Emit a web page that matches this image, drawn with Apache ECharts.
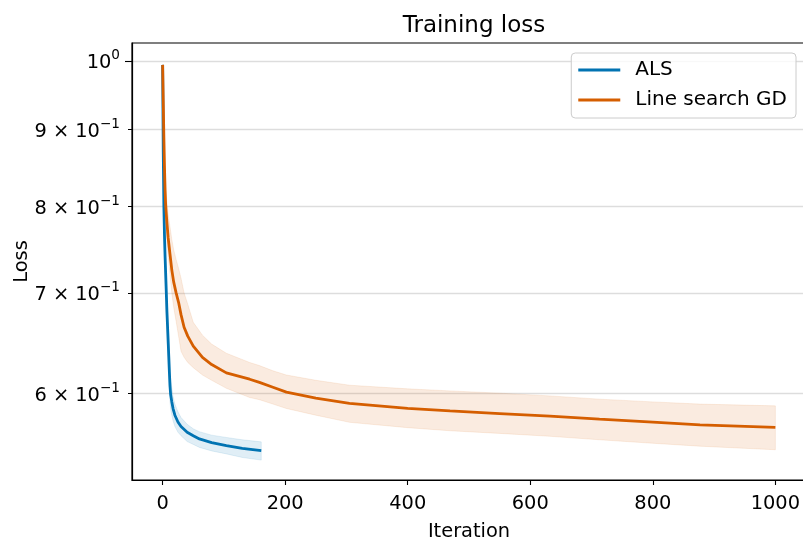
<!DOCTYPE html>
<html>
<head>
<meta charset="utf-8">
<script src="https://cdn.jsdelivr.net/npm/echarts@6/dist/echarts.min.js"></script>
<style>
  html, body { margin: 0; padding: 0; background: #fff; }
  #chart { width: 803px; height: 542px; }
</style>
</head>
<body>
<div id="chart"></div>
<script>
// ALS: mean training loss per iteration with the spread band around it
const alsIter  = [0, 1, 2, 3, 4, 5, 6, 7, 8, 9, 10, 11, 12, 13, 15, 17, 20, 25, 30, 40, 50, 60, 80, 104, 130, 161];
const alsMean  = [0.994, 0.87, 0.80, 0.765, 0.74, 0.72, 0.70, 0.68, 0.665, 0.65, 0.635, 0.62, 0.607, 0.599, 0.592, 0.586, 0.580, 0.574, 0.570, 0.565, 0.562, 0.5592, 0.556, 0.5535, 0.5512, 0.5493];
const alsLower = [0.994, 0.85, 0.78, 0.745, 0.72, 0.70, 0.68, 0.66, 0.645, 0.63, 0.617, 0.603, 0.592, 0.586, 0.580, 0.575, 0.570, 0.565, 0.562, 0.557, 0.5545, 0.552, 0.549, 0.5465, 0.5435, 0.5413];
const alsUpper = [0.994, 0.89, 0.82, 0.785, 0.76, 0.74, 0.72, 0.70, 0.685, 0.67, 0.655, 0.64, 0.625, 0.614, 0.605, 0.597, 0.590, 0.583, 0.578, 0.572, 0.568, 0.5655, 0.5625, 0.5605, 0.5585, 0.5567];

// Line search gradient descent
const gdIter  = [0, 1, 2, 3, 4, 5, 7, 9, 12, 15, 18, 22, 26, 30, 35, 41, 50, 65, 80, 104, 142, 158, 180, 202, 250, 305, 400, 469, 550, 632, 713, 800, 877, 1000];
const gdMean  = [0.994, 0.94, 0.89, 0.85, 0.82, 0.80, 0.78, 0.762, 0.743, 0.725, 0.712, 0.70, 0.69, 0.677, 0.664, 0.655, 0.645, 0.634, 0.627, 0.619, 0.613, 0.610, 0.6055, 0.601, 0.5955, 0.5907, 0.5862, 0.5838, 0.5815, 0.5792, 0.5765, 0.5738, 0.5715, 0.5693];
const gdLower = [0.994, 0.925, 0.87, 0.83, 0.80, 0.78, 0.76, 0.742, 0.72, 0.70, 0.685, 0.67, 0.655, 0.64, 0.634, 0.629, 0.624, 0.617, 0.612, 0.6045, 0.596, 0.594, 0.59, 0.586, 0.580, 0.5737, 0.569, 0.5663, 0.564, 0.5615, 0.5585, 0.5555, 0.553, 0.550];
const gdUpper = [0.994, 0.955, 0.91, 0.875, 0.845, 0.825, 0.805, 0.79, 0.775, 0.76, 0.748, 0.737, 0.727, 0.716, 0.70, 0.688, 0.669, 0.656, 0.647, 0.638, 0.629, 0.626, 0.621, 0.617, 0.612, 0.6074, 0.604, 0.6021, 0.600, 0.5975, 0.5945, 0.592, 0.590, 0.5884];

// Axis ticks
const xTicks = [0, 200, 400, 600, 800, 1000];
const yTicks = [0.6, 0.7, 0.8, 0.9, 1.0];
const yTickBase = ['6 × 10', '7 × 10', '8 × 10', '9 × 10', '10'];
const yTickExp  = ['−1', '−1', '−1', '−1', '0'];

const FONT = 'DejaVu Sans';
const BLUE = '#0173B2';
const ORANGE = '#D55E00';

const pairs = (xs, ys) => xs.map((x, i) => [x, ys[i]]);

function rgba(hex, a) {
  const n = parseInt(hex.slice(1), 16);
  return 'rgba(' + (n >> 16) + ',' + ((n >> 8) & 255) + ',' + (n & 255) + ',' + a + ')';
}

// Shaded spread: one polygon along the upper edge and back along the lower edge
function bandSeries(name, xs, lo, hi, color) {
  return {
    name: name + ' band', type: 'custom', silent: true, clip: true,
    data: xs.map((x, i) => [x, lo[i], hi[i]]),
    encode: { x: 0, y: [1, 2] },
    renderItem: function (params, api) {
      if (params.dataIndex !== 0) return null;
      const top = xs.map((x, i) => api.coord([x, hi[i]]));
      const bottom = xs.map((x, i) => api.coord([x, lo[i]])).reverse();
      return {
        type: 'polygon',
        shape: { points: top.concat(bottom) },
        style: { fill: rgba(color, 0.12), stroke: rgba(color, 0.1), lineWidth: 1 }
      };
    }
  };
}

function meanSeries(name, xs, ys, color) {
  return {
    name: name, type: 'line', data: pairs(xs, ys), symbol: 'none',
    lineStyle: { width: 2.8, color: color }, itemStyle: { color: color }
  };
}

const chart = echarts.init(document.getElementById('chart'), null, { renderer: 'canvas' });

chart.setOption({
  animation: false,
  backgroundColor: '#ffffff',
  textStyle: { fontFamily: FONT },
  title: {
    text: 'Training loss',
    left: 469, top: 10, textAlign: 'center',
    textStyle: { fontFamily: FONT, fontSize: 23, fontWeight: 'normal', color: '#000' }
  },
  grid: {
    left: 132, top: 43, width: 674, height: 437,
    show: true, borderColor: '#000', borderWidth: 1.2, backgroundColor: '#fff',
    outerBoundsMode: 'none', containLabel: false
  },
  legend: {
    data: ['ALS', 'Line search GD'],
    orient: 'vertical', right: 7, top: 53, align: 'left',
    icon: 'rect', itemWidth: 42, itemHeight: 2.8, itemGap: 10,
    padding: [7, 9, 8, 7],
    borderColor: '#cccccc', borderWidth: 1, borderRadius: 4,
    backgroundColor: 'rgba(255,255,255,0.8)',
    formatter: '{t|{name}}',
    textStyle: {
      fontFamily: FONT, fontSize: 20, color: '#000',
      rich: { t: { fontFamily: FONT, fontSize: 20, color: '#000', padding: [0, 0, 0, 10] } }
    }
  },
  xAxis: {
    type: 'value', min: -50, max: 1050,
    name: 'Iteration', nameLocation: 'middle', nameGap: 42, nameMoveOverlap: false,
    nameTextStyle: { fontFamily: FONT, fontSize: 19.4, color: '#000' },
    axisLine: { show: true, onZero: false, lineStyle: { color: '#000', width: 1.2 } },
    axisTick: { show: true, customValues: xTicks, length: 5, lineStyle: { color: '#000', width: 1.1 } },
    axisLabel: {
      customValues: xTicks, margin: 14, fontFamily: FONT, fontSize: 19.4, color: '#000',
      formatter: v => String(v)
    },
    splitLine: { show: false }
  },
  yAxis: [
    {
      type: 'log', logBase: 10, min: 0.525, max: 1.028,
      name: 'Loss', nameLocation: 'middle', nameGap: 110, nameRotate: 90, nameMoveOverlap: false,
      nameTextStyle: { fontFamily: FONT, fontSize: 19.4, color: '#000', verticalAlign: 'middle' },
      axisLine: { show: true, onZero: false, lineStyle: { color: '#000', width: 1.2 } },
      axisTick: { show: true, customValues: yTicks, length: 4, lineStyle: { color: '#000', width: 1 } },
      axisLabel: {
        customValues: yTicks, margin: 12,
        formatter: function (v) {
          const i = yTicks.findIndex(t => Math.abs(t - v) < 1e-6);
          if (i < 0) return '';
          return '{b|' + yTickBase[i] + '}{s|' + yTickExp[i] + '}';
        },
        rich: {
          b: { fontFamily: FONT, fontSize: 19.4, color: '#000', lineHeight: 24, verticalAlign: 'bottom' },
          s: { fontFamily: FONT, fontSize: 13.6, color: '#000', lineHeight: 24, verticalAlign: 'top' }
        }
      },
      splitLine: { show: true, lineStyle: { color: '#dddddd', width: 1.4 } }
    },
    {
      // longer major tick at 10^0
      type: 'log', logBase: 10, min: 0.525, max: 1.028, position: 'left',
      axisLine: { show: false, onZero: false },
      axisTick: { show: true, customValues: [1.0], length: 7, lineStyle: { color: '#000', width: 1.1 } },
      axisLabel: { show: false },
      splitLine: { show: false }
    }
  ],
  series: [
    bandSeries('ALS', alsIter, alsLower, alsUpper, BLUE),
    meanSeries('ALS', alsIter, alsMean, BLUE),
    bandSeries('Line search GD', gdIter, gdLower, gdUpper, ORANGE),
    meanSeries('Line search GD', gdIter, gdMean, ORANGE)
  ]
});
</script>
</body>
</html>
